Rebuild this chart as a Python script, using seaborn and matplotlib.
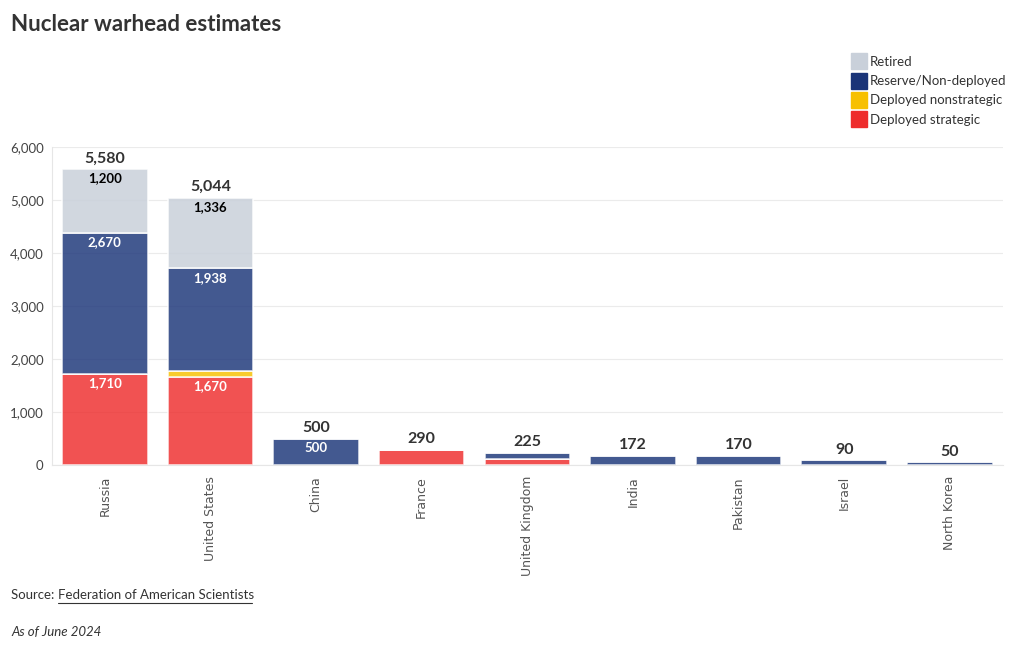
import numpy as np
import pandas as pd
import matplotlib.pyplot as plt
import seaborn as sns
from matplotlib.lines import Line2D

# Data (FAS estimates, June 2024)
countries = ["Russia", "United States", "China", "France", "United Kingdom",
             "India", "Pakistan", "Israel", "North Korea"]
deployed_strategic = [1710, 1670, 0, 280, 120, 0, 0, 0, 0]
deployed_nonstrategic = [0, 100, 0, 0, 0, 0, 0, 0, 0]
reserve = [2670, 1938, 500, 10, 105, 172, 170, 90, 50]
retired = [1200, 1336, 0, 0, 0, 0, 0, 0, 0]

layers = ["Deployed strategic", "Deployed nonstrategic", "Reserve/Non-deployed", "Retired"]
layer_values = [deployed_strategic, deployed_nonstrategic, reserve, retired]
colors = {"Deployed strategic": "#EE2C2C",
          "Deployed nonstrategic": "#F7C000",
          "Reserve/Non-deployed": "#1A3478",
          "Retired": "#C9D0DA"}
label_colors = {"Deployed strategic": "white", "Deployed nonstrategic": "white",
                "Reserve/Non-deployed": "white", "Retired": "black"}

sns.set_style("white")
plt.rcParams["font.family"] = ["Lato", "DejaVu Sans"]

fig = plt.figure(figsize=(10.2, 6.5), dpi=100)
ax = fig.add_axes([0.051, 0.2846, 0.932, 0.4892])

bottom = np.zeros(len(countries))
for name, vals in zip(layers, layer_values):
    vals = np.array(vals, dtype=float)
    sns.barplot(x=countries, y=vals, bottom=bottom, color=colors[name],
                saturation=1, alpha=0.82 if name != "Retired" else 0.85, width=0.81,
                edgecolor="white", linewidth=1.2, ax=ax, zorder=3)
    for i, v in enumerate(vals):
        if v >= 300:
            ax.text(i, bottom[i] + v - 60, f"{int(v):,}", ha="center", va="top",
                    color=label_colors[name], fontsize=9.5, fontweight="bold", zorder=5)
    bottom += vals

totals = bottom
for i, t in enumerate(totals):
    ax.text(i, t + 70, f"{int(t):,}", ha="center", va="bottom",
            fontsize=11.5, fontweight="bold", color="#333333", zorder=5)

ax.set_xlim(-0.5, len(countries) - 0.5)
ax.set_ylim(0, 6000)
ax.set_yticks(range(0, 6001, 1000))
ax.set_yticklabels([f"{v:,}" for v in range(0, 6001, 1000)], fontsize=9.5, color="#444444")
ax.yaxis.grid(True, color="#EBEBEB", linewidth=0.8, zorder=0)
ax.set_axisbelow(True)
for s in ["top", "right"]:
    ax.spines[s].set_visible(False)
ax.spines["left"].set_color("#E6E6E6")
ax.spines["bottom"].set_color("#E6E6E6")
ax.tick_params(axis="y", length=0, pad=6)
ax.tick_params(axis="x", length=4, color="#DDDDDD", pad=4)
ax.set_xticks(range(len(countries)))
ax.set_xticklabels(countries, rotation=90, fontsize=9, color="#555555")
for t in ax.get_xticklabels():
    t.set_fontfamily("DejaVu Sans")
ax.set_xlabel("")
ax.set_ylabel("")

# Legend
handles = [Line2D([0], [0], marker="s", linestyle="", markersize=12,
                  markerfacecolor=colors[n], markeredgecolor=colors[n])
           for n in layers[::-1]]
fig.legend(handles, layers[::-1], loc="upper left", bbox_to_anchor=(0.831, 0.922),
           frameon=False, fontsize=9.5, handletextpad=0.3, labelspacing=0.55,
           borderaxespad=0, handlelength=1.0, labelcolor="#333333")

fig.text(0.011, 0.962, "Nuclear warhead estimates", fontsize=16, fontweight="bold",
         color="#333333", va="center")
fig.text(0.011, 0.085, "Source: ", fontsize=9.5, color="#333333", va="center")
fig.text(0.057, 0.085, "Federation of American Scientists", fontsize=9.5,
         color="#333333", va="center")
fig.add_artist(Line2D([0.057, 0.247], [0.072, 0.072], color="#333333", linewidth=0.8))
fig.text(0.011, 0.028, "As of June 2024", fontsize=9.5, style="italic",
         color="#333333", va="center")

fig.savefig("out.png", dpi=100)
